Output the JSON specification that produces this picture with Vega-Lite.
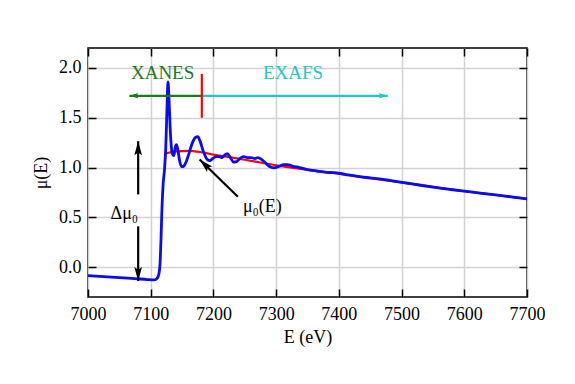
{
  "$schema": "https://vega.github.io/schema/vega-lite/v6.json",
  "width": 439,
  "height": 249,
  "autosize": {"type": "none"},
  "padding": {"left": 88, "top": 48, "right": 48, "bottom": 87},
  "background": "white",
  "config": {
    "view": {"stroke": "black", "strokeWidth": 1.5},
    "font": "Liberation Serif",
    "axis": {
      "labelFont": "Liberation Serif", "titleFont": "Liberation Serif",
      "labelFontSize": 18, "titleFontSize": 18,
      "labelColor": "black", "titleColor": "black", "titleFontWeight": "normal",
      "gridColor": "#d2d2d2", "gridWidth": 1.5,
      "tickColor": "black", "tickWidth": 1.5, "tickSize": -8,
      "domain": false
    }
  },
  "datasets": {
    "mu": [
      {"E": 7000, "mu": -0.085}, {"E": 7025, "mu": -0.095}, {"E": 7050, "mu": -0.105},
      {"E": 7075, "mu": -0.115}, {"E": 7095, "mu": -0.125}, {"E": 7106, "mu": -0.128},
      {"E": 7110, "mu": -0.115}, {"E": 7113, "mu": -0.07}, {"E": 7115, "mu": 0.05},
      {"E": 7116.5, "mu": 0.3}, {"E": 7118, "mu": 0.6}, {"E": 7120, "mu": 0.85},
      {"E": 7122, "mu": 0.98}, {"E": 7124, "mu": 1.2}, {"E": 7126, "mu": 1.6},
      {"E": 7127.5, "mu": 1.86}, {"E": 7129, "mu": 1.72}, {"E": 7131, "mu": 1.4},
      {"E": 7133, "mu": 1.2}, {"E": 7135, "mu": 1.13}, {"E": 7137, "mu": 1.12},
      {"E": 7139, "mu": 1.2}, {"E": 7141, "mu": 1.23}, {"E": 7143, "mu": 1.19},
      {"E": 7146, "mu": 1.07}, {"E": 7149, "mu": 1.01}, {"E": 7152, "mu": 1.01},
      {"E": 7156, "mu": 1.05}, {"E": 7161, "mu": 1.14}, {"E": 7166, "mu": 1.24},
      {"E": 7171, "mu": 1.3}, {"E": 7175, "mu": 1.31}, {"E": 7179, "mu": 1.26},
      {"E": 7184, "mu": 1.16}, {"E": 7189, "mu": 1.09}, {"E": 7194, "mu": 1.07},
      {"E": 7199, "mu": 1.09}, {"E": 7204, "mu": 1.11}, {"E": 7209, "mu": 1.11},
      {"E": 7213, "mu": 1.1}, {"E": 7217, "mu": 1.12}, {"E": 7222, "mu": 1.14},
      {"E": 7227, "mu": 1.1}, {"E": 7232, "mu": 1.055}, {"E": 7237, "mu": 1.06},
      {"E": 7242, "mu": 1.09}, {"E": 7248, "mu": 1.11}, {"E": 7254, "mu": 1.1},
      {"E": 7260, "mu": 1.1}, {"E": 7266, "mu": 1.09}, {"E": 7271, "mu": 1.1},
      {"E": 7277, "mu": 1.08}, {"E": 7284, "mu": 1.04}, {"E": 7291, "mu": 1.005},
      {"E": 7297, "mu": 0.997}, {"E": 7304, "mu": 1.01}, {"E": 7312, "mu": 1.03},
      {"E": 7318, "mu": 1.03}, {"E": 7326, "mu": 1.015}, {"E": 7337, "mu": 1.0},
      {"E": 7350, "mu": 0.98}, {"E": 7365, "mu": 0.965}, {"E": 7380, "mu": 0.952},
      {"E": 7392, "mu": 0.948}, {"E": 7402, "mu": 0.94}, {"E": 7415, "mu": 0.925},
      {"E": 7430, "mu": 0.91}, {"E": 7450, "mu": 0.895}, {"E": 7470, "mu": 0.88},
      {"E": 7490, "mu": 0.862}, {"E": 7510, "mu": 0.842}, {"E": 7530, "mu": 0.822},
      {"E": 7550, "mu": 0.803}, {"E": 7575, "mu": 0.782}, {"E": 7600, "mu": 0.762},
      {"E": 7625, "mu": 0.744}, {"E": 7650, "mu": 0.725}, {"E": 7675, "mu": 0.705},
      {"E": 7700, "mu": 0.686}
    ],
    "mu0": [
      {"E": 7123, "mu": 1.14}, {"E": 7140, "mu": 1.162}, {"E": 7160, "mu": 1.168},
      {"E": 7180, "mu": 1.155}, {"E": 7200, "mu": 1.13}, {"E": 7225, "mu": 1.105},
      {"E": 7250, "mu": 1.078}, {"E": 7275, "mu": 1.05}, {"E": 7300, "mu": 1.022},
      {"E": 7350, "mu": 0.977}, {"E": 7400, "mu": 0.938}, {"E": 7450, "mu": 0.894},
      {"E": 7500, "mu": 0.85}, {"E": 7550, "mu": 0.805}, {"E": 7600, "mu": 0.762},
      {"E": 7650, "mu": 0.724}, {"E": 7700, "mu": 0.686}
    ],
    "arrows": [
      {"name": "xanes", "E": 7181, "y": 1.72, "E2": 7066, "y2": 1.72},
      {"name": "exafs", "E": 7181, "y": 1.72, "E2": 7478, "y2": 1.72},
      {"name": "up", "E": 7080, "y": 0.73, "E2": 7080, "y2": 1.264},
      {"name": "down", "E": 7080, "y": 0.41, "E2": 7080, "y2": -0.14},
      {"name": "mu0", "E": 7239, "y": 0.706, "E2": 7178, "y2": 1.08},
      {"name": "divider", "E": 7181.5, "y": 1.5, "E2": 7181.5, "y2": 1.94}
    ],
    "labels": [
      {"name": "xanes", "E": 7119, "y": 1.95, "text": "XANES"},
      {"name": "exafs", "E": 7327, "y": 1.95, "text": "EXAFS"},
      {"name": "dmu", "E": 7058, "y": 0.53, "text": "Δμ₀"},
      {"name": "mu0", "E": 7278, "y": 0.6, "text": "μ₀(E)"}
    ]
  },
  "layer": [
    {
      "data": {"name": "mu0"},
      "mark": {"type": "line", "color": "#ff0000", "strokeWidth": 2.2, "interpolate": "monotone"},
      "encoding": {
        "x": {"field": "E", "type": "quantitative", "scale": {"domain": [7000, 7700], "nice": false, "zero": false},
              "axis": {"orient": "bottom", "values": [7000, 7100, 7200, 7300, 7400, 7500, 7600, 7700], "format": "d", "title": "E (eV)", "labelPadding": 16, "titlePadding": 5, "labelFlush": false}},
        "y": {"field": "mu", "type": "quantitative", "scale": {"domain": [-0.3, 2.2], "nice": false, "zero": false},
              "axis": {"orient": "left", "values": [0, 0.5, 1, 1.5, 2], "format": ".1f", "title": "μ(E)", "labelPadding": 15, "titlePadding": 8}}
      }
    },
    {
      "data": {"name": "mu"},
      "mark": {"type": "line", "color": "#0a0af5", "strokeWidth": 2.8, "interpolate": "monotone"},
      "encoding": {
        "x": {"field": "E", "type": "quantitative", "scale": {"domain": [7000, 7700], "nice": false, "zero": false},
              "axis": {"orient": "top", "values": [7000, 7100, 7200, 7300, 7400, 7500, 7600, 7700], "labels": false, "grid": false, "title": null}},
        "y": {"field": "mu", "type": "quantitative", "scale": {"domain": [-0.3, 2.2], "nice": false, "zero": false},
              "axis": {"orient": "right", "values": [0, 0.5, 1, 1.5, 2], "labels": false, "grid": false, "title": null}}
      }
    },
    {
      "data": {"name": "arrows"},
      "mark": {"type": "rule", "strokeWidth": 2.2},
      "encoding": {
        "x": {"field": "E", "type": "quantitative", "axis": null},
        "y": {"field": "y", "type": "quantitative", "axis": null},
        "x2": {"field": "E2"},
        "y2": {"field": "y2"},
        "color": {"field": "name", "type": "nominal", "legend": null,
                  "scale": {"domain": ["xanes", "exafs", "up", "down", "mu0", "divider"],
                            "range": ["#1e7a1e", "#22c8c8", "black", "black", "black", "#ff0000"]}}
      }
    },
    {
      "data": {"name": "arrows"},
      "transform": [{"filter": "datum.name === 'xanes'"}],
      "mark": {"type": "point", "shape": "M0,0 L0.6,2 L0,1.6 L-0.6,2 Z", "filled": true, "size": 81, "angle": 270, "color": "#1e7a1e", "opacity": 1},
      "encoding": {"x": {"field": "E2", "type": "quantitative", "axis": null}, "y": {"field": "y2", "type": "quantitative", "axis": null}}
    },
    {
      "data": {"name": "arrows"},
      "transform": [{"filter": "datum.name === 'exafs'"}],
      "mark": {"type": "point", "shape": "M0,0 L0.6,2 L0,1.6 L-0.6,2 Z", "filled": true, "size": 81, "angle": 90, "color": "#22c8c8", "opacity": 1},
      "encoding": {"x": {"field": "E2", "type": "quantitative", "axis": null}, "y": {"field": "y2", "type": "quantitative", "axis": null}}
    },
    {
      "data": {"name": "arrows"},
      "transform": [{"filter": "datum.name === 'up'"}],
      "mark": {"type": "point", "shape": "M0,0 L0.55,2 L0,1.6 L-0.55,2 Z", "filled": true, "size": 196, "angle": 0, "color": "black", "opacity": 1},
      "encoding": {"x": {"field": "E2", "type": "quantitative", "axis": null}, "y": {"field": "y2", "type": "quantitative", "axis": null}}
    },
    {
      "data": {"name": "arrows"},
      "transform": [{"filter": "datum.name === 'down'"}],
      "mark": {"type": "point", "shape": "M0,0 L0.55,2 L0,1.6 L-0.55,2 Z", "filled": true, "size": 196, "angle": 180, "color": "black", "opacity": 1},
      "encoding": {"x": {"field": "E2", "type": "quantitative", "axis": null}, "y": {"field": "y2", "type": "quantitative", "axis": null}}
    },
    {
      "data": {"name": "arrows"},
      "transform": [{"filter": "datum.name === 'mu0'"}],
      "mark": {"type": "point", "shape": "M0,0 L0.55,2 L0,1.6 L-0.55,2 Z", "filled": true, "size": 196, "angle": 314, "color": "black", "opacity": 1},
      "encoding": {"x": {"field": "E2", "type": "quantitative", "axis": null}, "y": {"field": "y2", "type": "quantitative", "axis": null}}
    },
    {
      "data": {"name": "labels"},
      "transform": [{"filter": "datum.name === 'xanes' || datum.name === 'exafs'"}],
      "mark": {"type": "text", "font": "Liberation Serif", "fontSize": 19, "align": "center", "baseline": "middle"},
      "encoding": {
        "x": {"field": "E", "type": "quantitative", "axis": null},
        "y": {"field": "y", "type": "quantitative", "axis": null},
        "text": {"field": "text"},
        "color": {"field": "name", "type": "nominal", "legend": null,
                  "scale": {"domain": ["xanes", "exafs", "dmu", "mu0"], "range": ["#1e7a1e", "#22c8c8", "black", "black"]}}
      }
    },
    {
      "data": {"name": "labels"},
      "transform": [{"filter": "datum.name === 'dmu' || datum.name === 'mu0'"}],
      "mark": {"type": "text", "font": "Liberation Serif", "fontSize": 18, "align": "center", "baseline": "middle", "color": "black"},
      "encoding": {
        "x": {"field": "E", "type": "quantitative", "axis": null},
        "y": {"field": "y", "type": "quantitative", "axis": null},
        "text": {"field": "text"}
      }
    }
  ],
  "resolve": {"axis": {"x": "independent", "y": "independent"}}
}
